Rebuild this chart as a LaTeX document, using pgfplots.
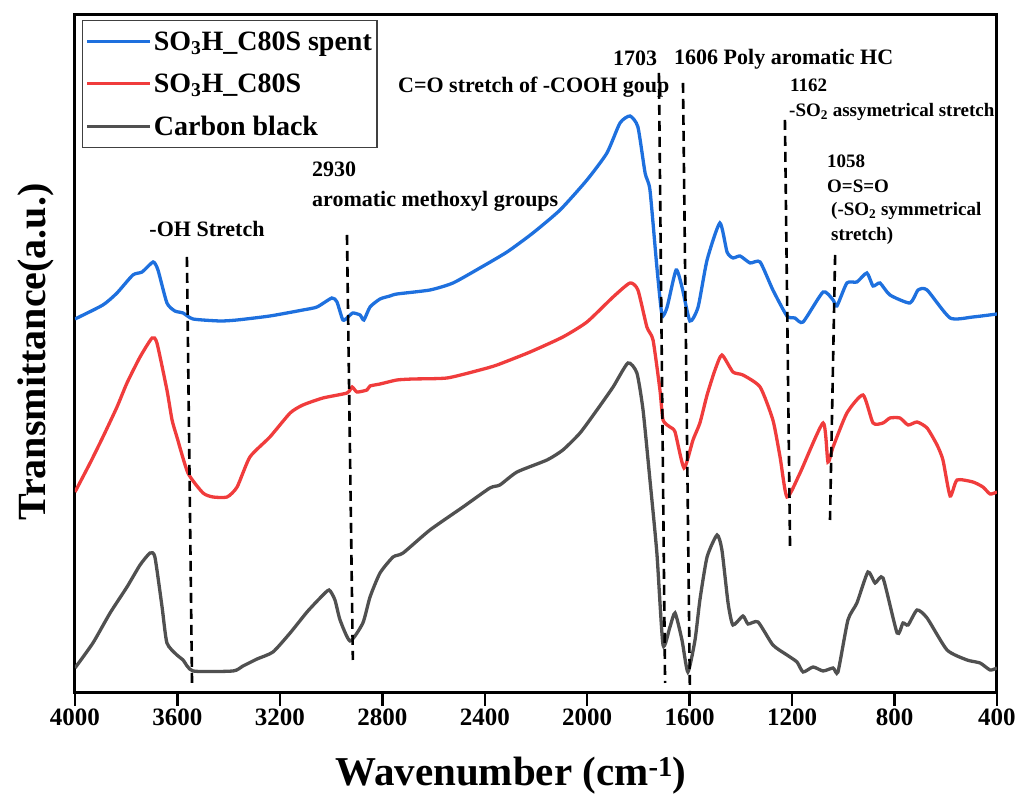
\documentclass[border=0pt]{standalone}
\usepackage{fontspec}
\setmainfont{Liberation Serif}
\usepackage{pgfplots}
\pgfplotsset{compat=1.18}
\definecolor{cblue}{RGB}{30,112,222}
\definecolor{cred}{RGB}{240,60,60}
\definecolor{cgray}{RGB}{80,80,80}
\pgfplotstableread{
w y
4000 374
3891 388
3836 400
3774 418
3738 421
3695 431
3676 423
3641 390
3610 382
3578 380
3539 374
3434 372
3367 373
3239 377
3110 383
3055 386
2997 395
2977 391
2954 373
2934 376
2915 380
2887 378
2872 373
2848 386
2809 394
2770 397
2743 399
2614 403
2524 410
2419 425
2313 441
2212 460
2106 483
2001 513
1923 540
1872 570
1833 577
1802 566
1774 520
1755 503
1728 426
1708 378
1688 386
1653 423
1630 406
1599 372
1567 386
1532 433
1482 470
1454 441
1431 435
1403 437
1364 430
1325 431
1275 403
1220 377
1189 375
1157 371
1079 401
1040 393
1025 387
986 410
947 411
908 420
884 407
857 410
818 398
740 390
708 403
673 403
583 375
494 376
400 379
}\spent
\pgfplotstableread{
w y
4000 201
3941 230
3891 256
3836 286
3797 310
3746 336
3699 355
3680 350
3641 303
3621 273
3602 256
3559 220
3500 200
3461 196
3406 196
3367 206
3317 236
3239 256
3160 280
3110 288
3032 295
2938 300
2918 306
2899 301
2860 303
2848 307
2809 309
2743 313
2680 314
2547 315
2419 323
2352 328
2223 341
2095 356
2001 371
1899 396
1833 410
1802 403
1767 366
1743 353
1716 303
1704 273
1677 266
1657 261
1622 225
1587 253
1560 270
1532 298
1501 323
1474 338
1431 321
1392 318
1325 306
1275 273
1247 236
1220 196
1169 220
1079 270
1060 231
1040 246
986 280
923 298
884 270
845 270
818 275
779 275
747 268
712 271
673 265
634 248
611 233
583 197
556 213
494 211
455 206
427 199
400 201
}\fresh
\pgfplotstableread{
w y
4000 25
3930 50
3863 80
3797 106
3746 128
3707 140
3688 136
3660 86
3641 50
3602 38
3578 33
3539 22
3383 22
3344 27
3289 34
3227 41
3160 60
3094 81
3043 95
3008 103
2985 93
2965 73
2926 52
2876 70
2848 96
2809 120
2758 136
2719 140
2614 163
2485 186
2380 205
2341 208
2274 221
2157 233
2095 243
2028 260
1962 283
1899 306
1841 330
1806 320
1782 283
1755 213
1728 140
1704 48
1677 66
1657 80
1630 53
1607 21
1579 53
1560 93
1532 136
1493 158
1474 143
1450 90
1431 68
1392 77
1372 69
1333 71
1275 48
1220 38
1181 31
1157 21
1118 26
1079 22
1040 25
1021 21
982 73
947 90
904 121
876 110
845 115
790 60
767 70
747 68
712 83
673 75
595 43
517 33
466 30
427 23
400 25
}\carbon
\begin{document}
\begin{tikzpicture}[x=1pt,y=1pt]
\useasboundingbox (0,0) rectangle (1021,794);
\begin{axis}[
  at={(75pt,101pt)}, anchor=south west,
  scale only axis, width=922pt, height=678pt,
  xmin=400, xmax=4000, ymin=0, ymax=678,
  x dir=reverse,
  xtick={400,800,...,4000},
  ytick=\empty,
  xtick pos=bottom,
  tick align=outside,
  major tick length=13pt,
  axis line style={line width=3pt},
  every tick/.style={black, line width=2.5pt},
  xticklabel style={font=\fontsize{25}{25}\selectfont\bfseries, inner sep=0pt, yshift=-3pt},
  /pgf/number format/assume math mode=true,
  /pgf/number format/1000 sep={},
  legend style={at={(0.0076,0.9926)}, anchor=north west, draw=black!75, line width=1.2pt,
    font=\fontsize{28}{30}\selectfont\bfseries, inner xsep=3pt, inner ysep=0pt, row sep=0pt,
    nodes={inner ysep=11pt}},
  legend cell align=left,
  legend image code/.code={\draw[#1] (0pt,0pt) -- (63pt,0pt);},
]
\addplot[cblue, line width=3.3pt, smooth, tension=0.35] table[x=w,y=y] {\spent};
\addlegendentry{SO\textsubscript{3}H\_C80S spent}
\addplot[cred, line width=3.3pt, smooth, tension=0.35] table[x=w,y=y] {\fresh};
\addlegendentry{SO\textsubscript{3}H\_C80S}
\addplot[cgray, line width=3.3pt, smooth, tension=0.35] table[x=w,y=y] {\carbon};
\addlegendentry{Carbon black}
\addplot[black, line width=2.6pt, dash pattern=on 10pt off 6pt, forget plot] coordinates {(3563,436) (3543,10)};
\addplot[black, line width=2.6pt, dash pattern=on 10pt off 6pt, forget plot] coordinates {(2938,458) (2915,33)};
\addplot[black, line width=2.6pt, dash pattern=on 10pt off 6pt, forget plot] coordinates {(1720,620) (1696,10)};
\addplot[black, line width=2.6pt, dash pattern=on 10pt off 6pt, forget plot] coordinates {(1626,610) (1599,0)};
\addplot[black, line width=2.6pt, dash pattern=on 10pt off 6pt, forget plot] coordinates {(1228,573) (1208,146)};
\addplot[black, line width=2.6pt, dash pattern=on 10pt off 6pt, forget plot] coordinates {(1032,438) (1052,173)};
\end{axis}
\begin{scope}[every node/.style={inner sep=0pt}]
\node[anchor=base, font=\fontsize{22}{22}\selectfont\bfseries] at (207,557) {-OH Stretch};
\node[anchor=base west, font=\fontsize{22}{22}\selectfont\bfseries] at (312,617) {2930};
\node[anchor=base west, font=\fontsize{22}{22}\selectfont\bfseries] at (312,587) {aromatic methoxyl groups};
\node[anchor=base west, font=\fontsize{22}{22}\selectfont\bfseries] at (398,701) {C=O stretch of -COOH goup};
\node[anchor=base west, font=\fontsize{22}{22}\selectfont\bfseries] at (613,728) {1703};
\node[anchor=base west, font=\fontsize{22}{22}\selectfont\bfseries] at (674,729) {1606 Poly aromatic HC};
\node[anchor=base west, font=\fontsize{19}{19}\selectfont\bfseries] at (790,702) {1162};
\node[anchor=base west, font=\fontsize{19}{19}\selectfont\bfseries] at (789,677) {-SO\textsubscript{2} assymetrical stretch};
\node[anchor=base west, font=\fontsize{19}{19}\selectfont\bfseries] at (827,626) {1058};
\node[anchor=base west, font=\fontsize{19}{19}\selectfont\bfseries] at (827,601) {O=S=O};
\node[anchor=base west, font=\fontsize{19}{19}\selectfont\bfseries] at (831,578) {(-SO\textsubscript{2} symmetrical};
\node[anchor=base west, font=\fontsize{19}{19}\selectfont\bfseries] at (831,553) {stretch)};
\node[anchor=base, font=\fontsize{41}{41}\selectfont\bfseries] at (511,8) {Wavenumber (cm\textsuperscript{-1})};
\node[anchor=base, rotate=90, font=\fontsize{40}{40}\selectfont\bfseries] at (45,442) {Transmittance(a.u.)};
\end{scope}
\end{tikzpicture}
\end{document}
